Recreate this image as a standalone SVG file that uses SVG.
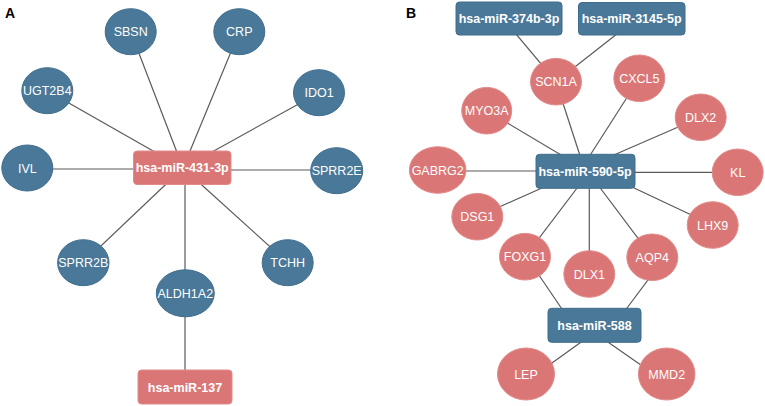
<svg xmlns="http://www.w3.org/2000/svg" width="765" height="406" viewBox="0 0 765 406">
<style>
.bl{fill:#4a7898;stroke:#3f6d8d;stroke-width:1}
.pk{fill:#da7676;stroke:#e28b8b;stroke-width:1}
.t{font-family:"Liberation Sans",Arial,sans-serif;font-size:12.5px;fill:#fff;text-anchor:middle}
.tb{font-family:"Liberation Sans",Arial,sans-serif;font-size:12.5px;font-weight:bold;fill:#fff;text-anchor:middle}
.pl{font-family:"Liberation Sans",Arial,sans-serif;font-size:14px;font-weight:bold;fill:#000}
#edges line{stroke:#5a5a5a;stroke-width:1.2}
</style>
<rect width="765" height="406" fill="#fff"/>
<text class="pl" x="5" y="18">A</text>
<text class="pl" x="406" y="18">B</text>
<g id="edges">
<line x1="130.7" y1="31.7" x2="183" y2="168"/>
<line x1="239.3" y1="31.7" x2="183" y2="168"/>
<line x1="47.3" y1="90.7" x2="183" y2="168"/>
<line x1="319" y1="92.7" x2="183" y2="168"/>
<line x1="27.3" y1="169" x2="183" y2="169"/>
<line x1="336.7" y1="170" x2="183" y2="170"/>
<line x1="83.3" y1="262.7" x2="183" y2="168"/>
<line x1="287.7" y1="262.7" x2="183" y2="168"/>
<line x1="185" y1="168" x2="185" y2="293"/>
<line x1="185" y1="293" x2="185" y2="387"/>
<line x1="503" y1="18.5" x2="556" y2="81.7"/>
<line x1="636" y1="19" x2="556" y2="81.7"/>
<line x1="556" y1="81.7" x2="585" y2="171"/>
<line x1="639.3" y1="78.3" x2="580" y2="171"/>
<line x1="700.7" y1="117.3" x2="577" y2="171"/>
<line x1="737.7" y1="172.3" x2="585" y2="172.3"/>
<line x1="486.7" y1="110.7" x2="588" y2="171"/>
<line x1="437.7" y1="171" x2="585" y2="171"/>
<line x1="477.3" y1="216.7" x2="580" y2="171"/>
<line x1="525" y1="256.7" x2="590" y2="171"/>
<line x1="589.3" y1="274" x2="589.3" y2="171"/>
<line x1="652.3" y1="257.3" x2="587.5" y2="171"/>
<line x1="712.7" y1="225" x2="598" y2="171"/>
<line x1="530" y1="262" x2="564" y2="312"/>
<line x1="652" y1="274.6" x2="624" y2="312"/>
<line x1="545" y1="368" x2="584" y2="340"/>
<line x1="643" y1="366.5" x2="605" y2="340"/>
</g>
<g id="n-SBSN"><ellipse class="bl" cx="130.7" cy="31.7" rx="25.5" ry="23"/><text class="t" x="130.7" y="36.2">SBSN</text></g>
<g id="n-CRP"><ellipse class="bl" cx="239.3" cy="31.7" rx="25.5" ry="23"/><text class="t" x="239.3" y="36.2">CRP</text></g>
<g id="n-UGT2B4"><ellipse class="bl" cx="47.3" cy="90.7" rx="25.5" ry="23"/><text class="t" x="47.3" y="95.2">UGT2B4</text></g>
<g id="n-IDO1"><ellipse class="bl" cx="319" cy="92.7" rx="25.5" ry="23"/><text class="t" x="319" y="97.2">IDO1</text></g>
<g id="n-IVL"><ellipse class="bl" cx="27.3" cy="168" rx="25.5" ry="23"/><text class="t" x="27.3" y="172.5">IVL</text></g>
<g id="n-SPRR2E"><ellipse class="bl" cx="336.7" cy="170.7" rx="26" ry="23"/><text class="t" x="336.7" y="175.2">SPRR2E</text></g>
<g id="n-SPRR2B"><ellipse class="bl" cx="83.3" cy="262.7" rx="25.7" ry="23"/><text class="t" x="83.3" y="267.2">SPRR2B</text></g>
<g id="n-TCHH"><ellipse class="bl" cx="287.7" cy="262.7" rx="25.5" ry="23"/><text class="t" x="287.7" y="267.2">TCHH</text></g>
<g id="n-ALDH1A2"><ellipse class="bl" cx="185.3" cy="293.3" rx="29" ry="23.5"/><text class="t" x="185.3" y="297.8">ALDH1A2</text></g>
<g id="n-miR-431-3p"><rect class="pk" x="133.5" y="151" width="97.5" height="33.5" rx="3.5"/><text class="tb" x="182.2" y="172.3">hsa-miR-431-3p</text></g>
<g id="n-miR-137"><rect class="pk" x="138" y="370" width="94" height="34" rx="3.5"/><text class="tb" x="185" y="391.5">hsa-miR-137</text></g>
<g id="n-miR-374b-3p"><rect class="bl" x="456" y="2" width="106" height="33" rx="3.5"/><text class="tb" x="509" y="23">hsa-miR-374b-3p</text></g>
<g id="n-miR-3145-5p"><rect class="bl" x="578.5" y="2.5" width="106.5" height="32.5" rx="3.5"/><text class="tb" x="631.7" y="23">hsa-miR-3145-5p</text></g>
<g id="n-SCN1A"><ellipse class="pk" cx="556" cy="81.7" rx="25.5" ry="23.3"/><text class="t" x="556" y="86.2">SCN1A</text></g>
<g id="n-CXCL5"><ellipse class="pk" cx="639.3" cy="78.3" rx="25.5" ry="23.3"/><text class="t" x="639.3" y="82.8">CXCL5</text></g>
<g id="n-DLX2"><ellipse class="pk" cx="700.7" cy="117.3" rx="25.5" ry="23.3"/><text class="t" x="700.7" y="121.8">DLX2</text></g>
<g id="n-MYO3A"><ellipse class="pk" cx="486.7" cy="110.7" rx="25" ry="23.3"/><text class="t" x="486.7" y="115.2">MYO3A</text></g>
<g id="n-GABRG2"><ellipse class="pk" cx="437.7" cy="170" rx="28.3" ry="23.3"/><text class="t" x="437.7" y="174.5">GABRG2</text></g>
<g id="n-KL"><ellipse class="pk" cx="737.7" cy="172.3" rx="25.5" ry="23.3"/><text class="t" x="737.7" y="176.8">KL</text></g>
<g id="n-DSG1"><ellipse class="pk" cx="477.3" cy="216.7" rx="25.5" ry="23.3"/><text class="t" x="477.3" y="221.2">DSG1</text></g>
<g id="n-LHX9"><ellipse class="pk" cx="712.7" cy="225" rx="25.5" ry="23.3"/><text class="t" x="712.7" y="229.5">LHX9</text></g>
<g id="n-FOXG1"><ellipse class="pk" cx="525" cy="256.7" rx="25.5" ry="23.3"/><text class="t" x="525" y="261.2">FOXG1</text></g>
<g id="n-DLX1"><ellipse class="pk" cx="589.3" cy="274" rx="25.5" ry="23.3"/><text class="t" x="589.3" y="278.5">DLX1</text></g>
<g id="n-AQP4"><ellipse class="pk" cx="652.3" cy="257.3" rx="25.5" ry="23.3"/><text class="t" x="652.3" y="261.8">AQP4</text></g>
<g id="n-miR-590-5p"><rect class="bl" x="536" y="154.3" width="99" height="34" rx="3.5"/><text class="tb" x="585" y="175.8">hsa-miR-590-5p</text></g>
<g id="n-miR-588"><rect class="bl" x="548" y="308.3" width="93" height="34" rx="3.5"/><text class="tb" x="594.5" y="329.8">hsa-miR-588</text></g>
<g id="n-LEP"><ellipse class="pk" cx="526" cy="374" rx="28.5" ry="26"/><text class="t" x="526" y="378.5">LEP</text></g>
<g id="n-MMD2"><ellipse class="pk" cx="666.7" cy="374" rx="28.3" ry="26"/><text class="t" x="666.7" y="378.5">MMD2</text></g>
</svg>
